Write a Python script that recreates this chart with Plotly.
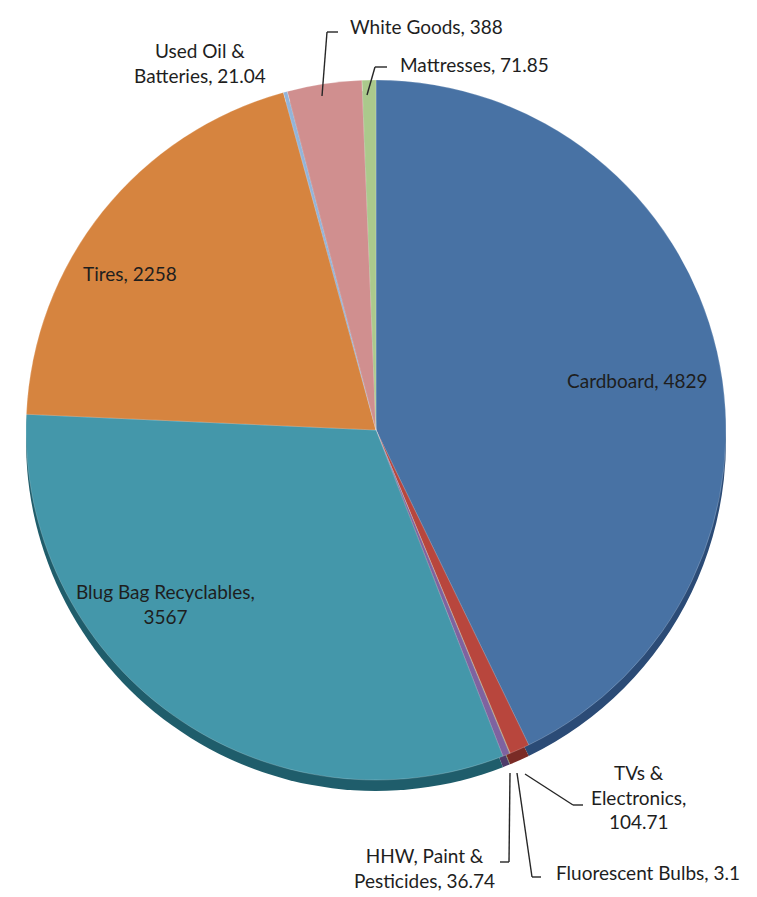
import plotly.graph_objects as go

W, H = 757, 897

categories = ["Cardboard", "TVs & Electronics", "Fluorescent Bulbs", "HHW, Paint & Pesticides",
              "Blug Bag Recyclables", "Tires", "Used Oil & Batteries", "White Goods", "Mattresses"]
values = [4829, 104.71, 3.1, 36.74, 3567, 2258, 21.04, 388, 71.85]
value_labels = ["4829", "104.71", "3.1", "36.74", "3567", "2258", "21.04", "388", "71.85"]

colors = ["#4872a4", "#b8463d", "#93b35a", "#7e63a0", "#4497aa", "#d6843f", "#93b4d9", "#d08f8f", "#abc98c"]
shadow_colors = ["#2b4b76", "#7a2b26", "#5f7a35", "#4e3c6a", "#1f5d6b", "#8f5222", "#5c7aa0", "#8c5555", "#6e8a55"]

def px(x, y):
    return x / W, 1 - y / H

cx, cy, R = 376, 430, 350
shift = 11

def dom(dy):
    x0, y0 = px(cx - R, cy + R + dy)
    x1, y1 = px(cx + R, cy - R + dy)
    return dict(x=[x0, x1], y=[y0, y1])

fig = go.Figure()
fig.add_trace(go.Pie(labels=categories, values=values, sort=False, direction="clockwise", rotation=0,
                     marker=dict(colors=shadow_colors, line=dict(width=0)), textinfo="none",
                     hoverinfo="skip", showlegend=False, domain=dom(shift)))
fig.add_trace(go.Pie(labels=categories, values=values, sort=False, direction="clockwise", rotation=0,
                     marker=dict(colors=colors, line=dict(color="rgba(255,255,255,0.4)", width=0.5)),
                     textinfo="none", hoverinfo="skip", showlegend=False, domain=dom(0)))

font = dict(family="Lato, 'Open Sans', sans-serif", size=19, color="#1e1e1e")

def label(i):
    return f"{categories[i]}, {value_labels[i]}"

ann = [
    (label(0), 637, 380),
    (label(5), 130, 273),
    (f"{categories[4]},<br>{value_labels[4]}", 165, 604),
    (f"Used Oil &<br>Batteries, {value_labels[6]}", 200, 63),
    (label(7), 426, 26),
    (label(8), 474, 64),
    (f"TVs &<br>Electronics,<br>{value_labels[1]}", 638, 797),
    (label(2), 648, 872),
    (f"HHW, Paint &<br>Pesticides, {value_labels[3]}", 424, 868),
]
annotations = []
for t, x, y in ann:
    ax, ay = px(x, y)
    annotations.append(dict(x=ax, y=ay, xref="paper", yref="paper", text=t, showarrow=False,
                            font=font, align="center", xanchor="center", yanchor="middle"))

leaders = [
    [(322, 96), (327, 32), (338, 32)],
    [(367, 95), (375, 67), (387, 67)],
    [(525, 774), (573, 805), (583, 805)],
    [(517, 773), (532, 877), (541, 877)],
    [(510, 773), (509, 862), (500, 862)],
]
shapes = []
for pts in leaders:
    for (x0, y0), (x1, y1) in zip(pts[:-1], pts[1:]):
        a0, b0 = px(x0, y0)
        a1, b1 = px(x1, y1)
        shapes.append(dict(type="line", xref="paper", yref="paper", x0=a0, y0=b0, x1=a1, y1=b1,
                           line=dict(color="#262626", width=1.4)))

fig.update_layout(width=W, height=H, margin=dict(l=0, r=0, t=0, b=0),
                  paper_bgcolor="white", plot_bgcolor="white",
                  annotations=annotations, shapes=shapes, showlegend=False)

fig.write_html("out.html")
